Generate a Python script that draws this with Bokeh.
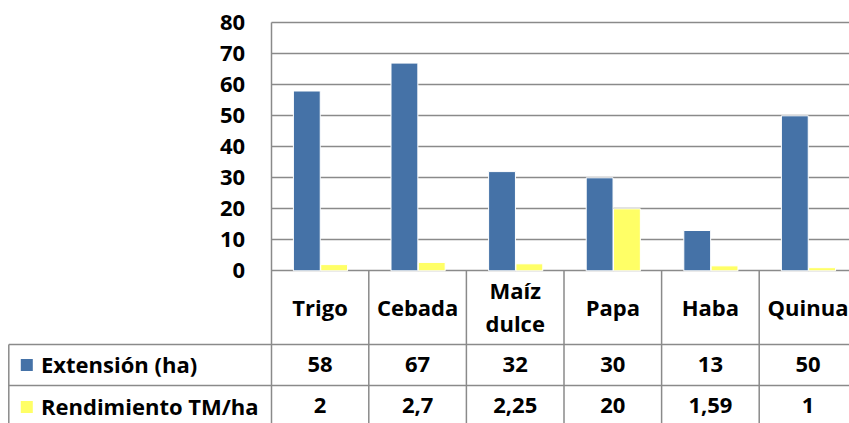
from bokeh.plotting import figure
from bokeh.models import LinearAxis, Grid, FixedTicker, ColumnDataSource, Range1d
from bokeh.transform import dodge
from bokeh.core.properties import value
from bokeh.embed import file_html
from bokeh.resources import INLINE

categories = ["Trigo", "Cebada", "Maíz\ndulce", "Papa", "Haba", "Quinua"]
extension = [58, 67, 32, 30, 13, 50]
rendimiento = [2, 2.7, 2.25, 20, 1.59, 1]
series_names = ["Extensión (ha)", "Rendimiento TM/ha"]
series_colors = ["#4572A7", "#FFFF66"]
y_ticks = [0, 10, 20, 30, 40, 50, 60, 70, 80]

W, H = 849, 423
PX_X = 97.6     # px per category
X0 = 270.7      # px from figure left to category 0
PX_Y = 3.1      # px per unit
Y0 = 270.3      # px from figure top to value 0

def xpx(px):
    return (px - X0) / PX_X

def ypx(py):
    return (Y0 - py) / PX_Y

x_start = xpx(0)
x_end = xpx(W)
y_start = ypx(H)
y_end = ypx(0)

FONT = "Open Sans"
FS = "22px"
TICK_FS = "22px"
GRID = "#8A8A8A"

p = figure(width=W, height=H, output_backend="svg", toolbar_location=None,
           x_range=Range1d(x_start, x_end), y_range=Range1d(y_start, y_end),
           x_axis_location=None, y_axis_location=None,
           min_border=0, min_border_left=0, min_border_right=0,
           min_border_top=0, min_border_bottom=0)
p.outline_line_color = None
p.background_fill_color = "white"
p.border_fill_color = "white"
p.xgrid.visible = False
p.ygrid.visible = False

ticker = FixedTicker(ticks=y_ticks)
grid = Grid(dimension=1, ticker=ticker, cross_bounds=(0, len(categories)),
            grid_line_color=GRID, grid_line_width=1.5)
p.add_layout(grid)

axis = LinearAxis(fixed_location=0, ticker=ticker, bounds=(y_start, y_ticks[-1]),
                  axis_line_color=GRID, axis_line_width=1.5,
                  major_tick_line_color=None, minor_tick_line_color=None,
                  major_tick_in=0, major_tick_out=0,
                  minor_tick_in=0, minor_tick_out=0,
                  major_label_standoff=26,
                  major_label_text_font=FONT, major_label_text_font_style="bold",
                  major_label_text_font_size=TICK_FS, major_label_text_color="black")
p.add_layout(axis, "left")

n = len(categories)
src = ColumnDataSource(dict(
    x=[i + 0.5 for i in range(n)],
    cat=categories,
    ext=extension,
    ren=rendimiento,
    ext_lbl=[f"{v:g}".replace(".", ",") for v in extension],
    ren_lbl=[f"{v:g}".replace(".", ",") for v in rendimiento],
))

p.vbar(x=dodge("x", -0.135), top="ext", width=0.275, bottom=0, source=src,
       fill_color=series_colors[0], line_color="white", line_width=1)
p.vbar(x=dodge("x", 0.145), top="ren", width=0.275, bottom=0, source=src,
       fill_color=series_colors[1], line_color="white", line_width=1)

# table lines
row1_top = ypx(344)
row2_top = ypx(385)
xl = xpx(8.3)
p.segment(x0=[xl, xl], x1=[x_end, x_end], y0=[row1_top, row2_top], y1=[row1_top, row2_top],
          line_color=GRID, line_width=1.5)
p.segment(x0=[xl], x1=[xl], y0=[row1_top], y1=[y_start], line_color=GRID, line_width=1.5)
bx = list(range(1, n + 1))
p.segment(x0=bx, x1=bx, y0=[0] * n, y1=[y_start] * n, line_color=GRID, line_width=1.5)

# category labels
p.text(x="x", y=ypx(306), text="cat", source=src, text_align="center",
       text_baseline="middle", text_font=value(FONT), text_font_style="bold",
       text_font_size=FS, text_color="black", text_line_height=1.1)

# values
row_y = [ypx(363.5), ypx(405)]
p.text(x="x", y=row_y[0], text="ext_lbl", source=src, text_align="center",
       text_baseline="middle", text_font=value(FONT), text_font_style="bold",
       text_font_size=FS, text_color="black")
p.text(x="x", y=row_y[1], text="ren_lbl", source=src, text_align="center",
       text_baseline="middle", text_font=value(FONT), text_font_style="bold",
       text_font_size=FS, text_color="black")

# row headers with legend keys
p.scatter(x=[xpx(26.3)] * 2, y=[ypx(364.5), ypx(406.5)], marker="square", size=12,
          fill_color=series_colors, line_color=None)
p.text(x=[xpx(40.5)] * 2, y=row_y, text=series_names, text_align="left",
       text_baseline="middle", text_font=value(FONT), text_font_style="bold",
       text_font_size=FS, text_color="black")

open("out.html", "w").write(file_html(p, INLINE))
